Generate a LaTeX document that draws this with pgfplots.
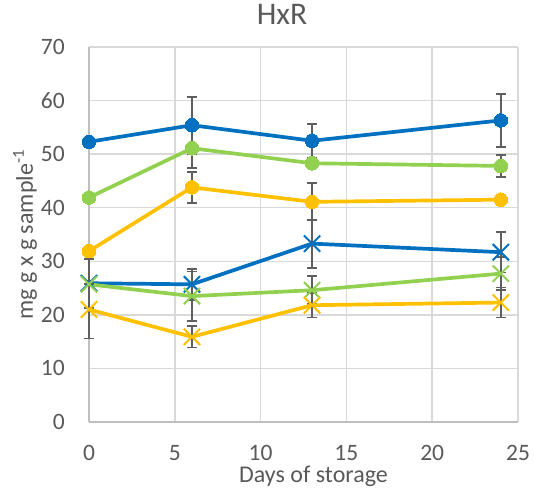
\documentclass[border=0pt]{standalone}
\usepackage{fontspec}
\setmainfont{Carlito}
\usepackage{pgfplots}
\pgfplotsset{compat=1.18}
\definecolor{cblue}{HTML}{0070C0}
\definecolor{cgreen}{HTML}{92D050}
\definecolor{corange}{HTML}{FFC000}
\definecolor{cgrid}{HTML}{D9D9D9}
\definecolor{caxis}{HTML}{BFBFBF}
\definecolor{ctext}{HTML}{595959}
\definecolor{cerr}{HTML}{5F5F5F}
\begin{document}
\begin{tikzpicture}
\begin{axis}[
  at={(0,0)}, anchor=south west,
  scale only axis, width=429pt, height=375pt,
  xmin=0, xmax=25, ymin=0, ymax=70,
  xtick={0,5,...,25}, ytick={0,10,...,70},
  axis lines=left, axis line style={-, caxis, line width=1.5pt},
  grid=major, major grid style={cgrid, line width=1.5pt},
  tick style={draw=none},
  ticklabel style={font=\fontsize{23.5}{25}\selectfont, text=ctext, inner sep=0pt},
  xticklabel style={anchor=center, yshift=-28.5pt},
  yticklabel style={anchor=east, xshift=-22pt},
  /pgf/number format/assume math mode=true,
  xlabel={Days of storage}, ylabel={mg g x g sample\textsuperscript{-1}},
  label style={font=\fontsize{24}{26}\selectfont, text=ctext, inner sep=0pt},
  xlabel style={at={(axis description cs:0.5,0)}, anchor=base, yshift=-60pt, xshift=10pt},
  ylabel style={at={(axis description cs:0,0.5)}, anchor=base, yshift=56pt},
  title={HxR}, title style={font=\fontsize{31.5}{33}\selectfont, text=ctext, inner sep=0pt,
    at={(axis description cs:0.5,1)}, anchor=center, yshift=26.5pt, xshift=-21.5pt},
  clip=false,
  every axis plot/.append style={line width=3.7pt},
  error bars/y dir=both, error bars/y explicit,
  error bars/error bar style={cerr, line width=1.8pt},
  error bars/error mark options={cerr, rotate=90, mark size=5pt, line width=1.8pt},
]
\addplot[cblue, mark=*, mark size=6.8pt, mark options={fill=cblue, line width=0pt}] coordinates {
 (0,52.3) +- (0,0) (6,55.4) +- (0,5.3) (13,52.5) +- (0,3.2) (24,56.3) +- (0,4.9)};
\addplot[cgreen, mark=*, mark size=6.8pt, mark options={fill=cgreen, line width=0pt}] coordinates {
 (0,41.9) +- (0,0) (6,51.1) +- (0,3.7) (13,48.3) +- (0,0.8) (24,47.8) +- (0,2.0)};
\addplot[corange, mark=*, mark size=6.8pt, mark options={fill=corange, line width=0pt}] coordinates {
 (0,31.9) +- (0,0) (6,43.8) +- (0,2.9) (13,41.1) +- (0,3.5) (24,41.5) +- (0,0)};
\addplot[cblue, mark=x, mark size=11.5pt, mark options={line width=2pt}] coordinates {
 (0,25.9) +- (0,4.6) (6,25.7) +- (0,2.9) (13,33.3) +- (0,4.5) (24,31.7) +- (0,3.8)};
\addplot[cgreen, mark=x, mark size=11.5pt, mark options={line width=2pt}] coordinates {
 (0,25.7) +- (0,0) (6,23.5) +- (0,4.6) (13,24.6) +- (0,2.6) (24,27.7) +- (0,3.1)};
\addplot[corange, mark=x, mark size=11.5pt, mark options={line width=2pt}] coordinates {
 (0,21.0) +- (0,5.4) (6,15.9) +- (0,2.0) (13,21.8) +- (0,2.3) (24,22.3) +- (0,2.8)};
\end{axis}
\pgfresetboundingbox
\path[use as bounding box] (-89pt,-68pt) rectangle (445pt,422pt);
\end{tikzpicture}
\end{document}
